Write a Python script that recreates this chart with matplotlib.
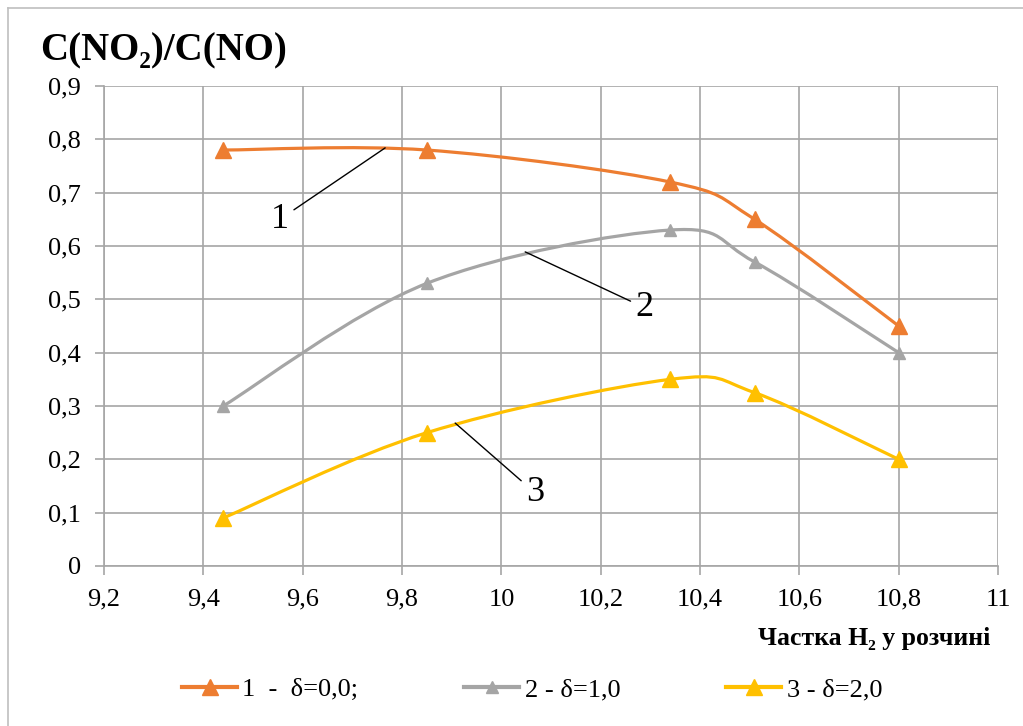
import matplotlib

matplotlib.use("Agg")
import matplotlib.pyplot as plt
import numpy as np
from matplotlib.lines import Line2D
from matplotlib.patches import PathPatch
from matplotlib.path import Path

plt.rcParams["font.family"] = ["Liberation Serif", "DejaVu Serif"]

# data
X = [9.44, 9.85, 10.34, 10.51, 10.80]
Y1 = [0.78, 0.78, 0.72, 0.65, 0.45]
Y2 = [0.30, 0.53, 0.63, 0.57, 0.40]
Y3 = [0.09, 0.25, 0.35, 0.325, 0.20]
LABELS = ["1  -  δ=0,0;", "2 - δ=1,0", "3 - δ=2,0"]
COLORS = ["#ED7D31", "#A5A5A5", "#FFC000"]
MARKER_SIZES = [12, 8, 12]

X_TICKS = np.round(np.arange(9.2, 11.01, 0.2), 1)
Y_TICKS = np.round(np.arange(0, 0.91, 0.1), 1)


def fmt(v):
    s = f"{v:g}"
    return s.replace(".", ",")


def smooth_path(xs, ys):
    """Excel-style smoothed line: cubic Bezier segments (Catmull-Rom controls)."""
    pts = np.column_stack([xs, ys]).astype(float)
    n = len(pts)
    verts = [pts[0]]
    codes = [Path.MOVETO]
    for i in range(n - 1):
        p0 = pts[max(i - 1, 0)]
        p1 = pts[i]
        p2 = pts[i + 1]
        p3 = pts[min(i + 2, n - 1)]
        c1 = p1 + (p2 - p0) / 6.0
        c2 = p2 - (p3 - p1) / 6.0
        verts += [c1, c2, p2]
        codes += [Path.CURVE4] * 3
    return Path(verts, codes)


fig = plt.figure(figsize=(10.23, 7.26), dpi=100)
ax = fig.add_axes([0.1017, 0.2204, 0.8739, 0.6611])

for ys, color, ms in zip([Y1, Y2, Y3], COLORS, MARKER_SIZES):
    ax.add_patch(PathPatch(smooth_path(X, ys), facecolor="none", edgecolor=color,
                           linewidth=2.3, zorder=3, capstyle="round"))
    ax.plot(X, ys, linestyle="none", marker="^", markersize=ms, color=color, zorder=4)

ax.set_xlim(9.2, 11.0)
ax.set_ylim(0, 0.9)
ax.set_xticks(X_TICKS, [fmt(v) for v in X_TICKS])
ax.set_yticks(Y_TICKS, [fmt(v) for v in Y_TICKS])
ax.grid(True, color="#A6A6A6", linewidth=1.2)
ax.set_axisbelow(True)
for side in ["top", "right"]:
    ax.spines[side].set_visible(False)
for side in ["left", "bottom"]:
    ax.spines[side].set_color("#A6A6A6")
    ax.spines[side].set_linewidth(1.2)
ax.tick_params(axis="both", colors="#A6A6A6", labelcolor="black", labelsize=19,
               length=6.5, width=1.2)
ax.tick_params(axis="y", pad=10)
ax.tick_params(axis="x", pad=10)

# callout numbers
for label, xt, yt, xe, ye in [("1", 9.554, 0.650, 9.766, 0.784),
                              ("2", 10.289, 0.484, 10.048, 0.589),
                              ("3", 10.068, 0.137, 9.907, 0.268)]:
    ax.annotate(label, xy=(xe, ye), xytext=(xt, yt), fontsize=26, ha="center", va="center",
                arrowprops=dict(arrowstyle="-", color="black", linewidth=1,
                                shrinkA=2, shrinkB=0))

fig.text(0.039, 0.93, "C(NO₂)/C(NO)", fontsize=28, fontweight="bold", ha="left", va="center")
fig.text(0.968, 0.121, "Частка H₂ у розчині", fontsize=18.5, fontweight="bold",
         ha="right", va="center")

handles = [Line2D([], [], color=c, linewidth=3, marker="^", markersize=ms)
           for c, ms in zip(COLORS, MARKER_SIZES)]
fig.legend(handles, LABELS, loc="center", bbox_to_anchor=(0.52, 0.05), ncol=3,
           frameon=False, fontsize=19, handlelength=2.1, handletextpad=0.2,
           columnspacing=4.0)

# chart-area frame
fig.add_artist(Line2D([0.008, 0.008], [0.0, 0.989], color="#BFBFBF", linewidth=1.2))
fig.add_artist(Line2D([0.008, 1.0], [0.989, 0.989], color="#BFBFBF", linewidth=1.2))

fig.savefig("out.png", dpi=100)
